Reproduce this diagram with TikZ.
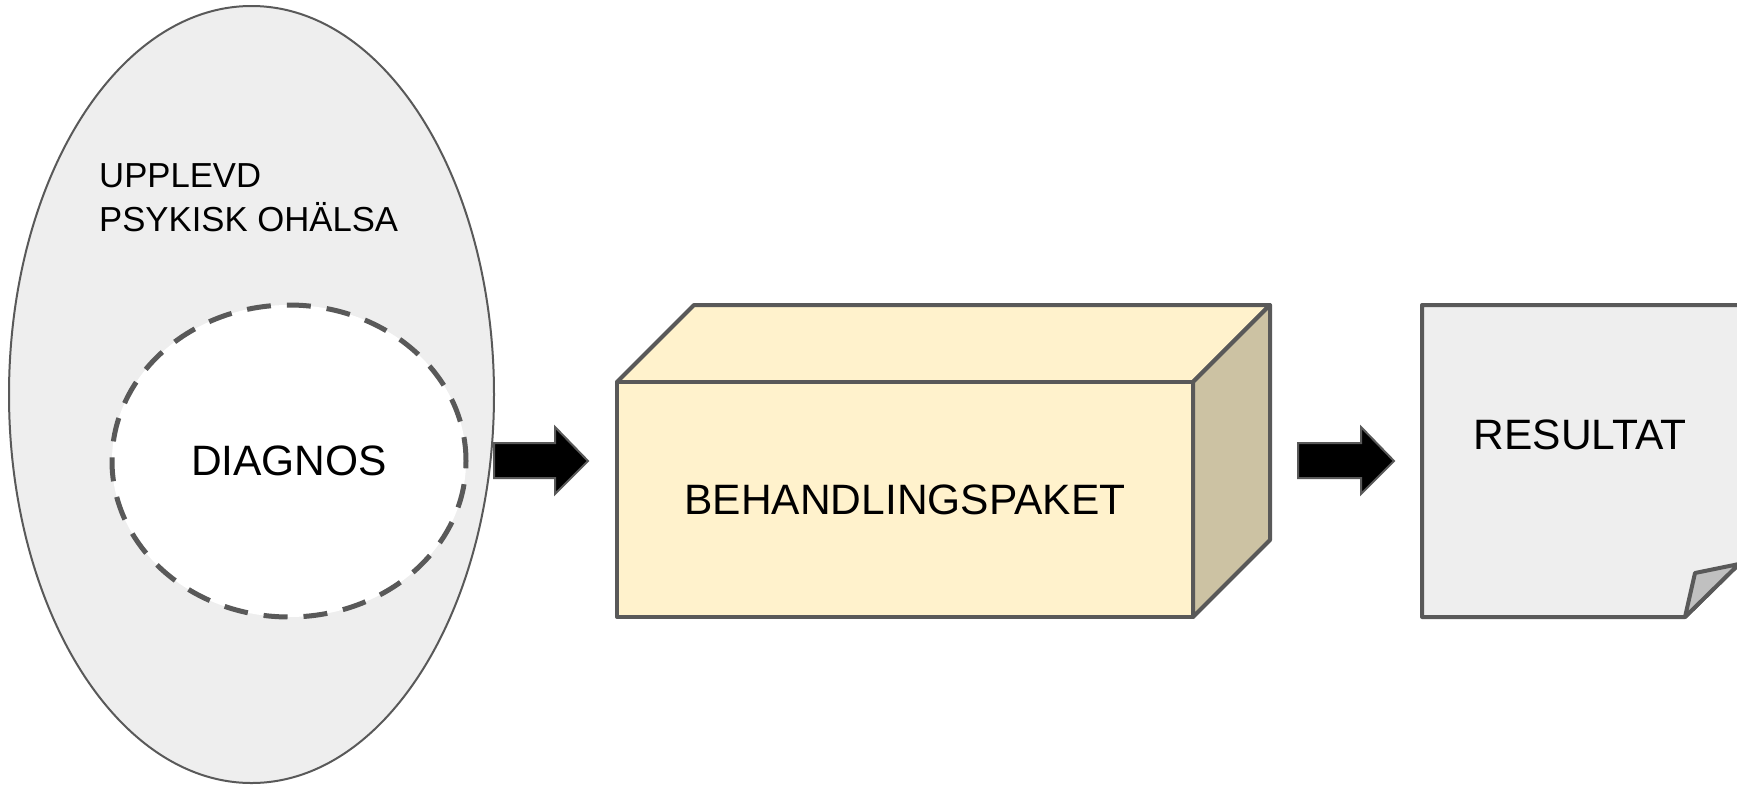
\documentclass[tikz,border=0pt]{standalone}
\usepackage{fontspec}
\setmainfont{Liberation Sans}
\usetikzlibrary{shapes.geometric}
\definecolor{edge}{RGB}{89,89,89}
\definecolor{lightgray}{RGB}{238,238,238}
\definecolor{cream}{RGB}{255,242,204}
\definecolor{creamdark}{RGB}{204,194,163}
\definecolor{foldgray}{RGB}{192,192,192}
\tikzset{
  outerblob/.style={ellipse, draw=edge, line width=2pt, fill=lightgray,
    minimum width=485pt, minimum height=777pt, inner sep=0pt},
  innerblob/.style={ellipse, draw=edge, line width=5pt, fill=white,
    dash pattern=on 24pt off 16pt, minimum width=354pt, minimum height=312pt, inner sep=0pt},
  solidface/.style={draw=edge, line width=4pt, line join=round},
  bigtext/.style={font=\fontsize{42.5}{50}\selectfont, inner sep=0pt},
  labeltext/.style={font=\fontsize{34.7}{44}\selectfont, align=left, inner sep=0pt},
  arrowbody/.style={fill=black, draw=edge, line width=2pt, line join=miter},
  pics/blockarrow/.style={code={
    \draw[arrowbody] (0,-18) -- (#1-33,-18) -- (#1-33,-34) -- (#1,0)
      -- (#1-33,33) -- (#1-33,17) -- (0,17) -- cycle;
  }}
}
\begin{document}
\begin{tikzpicture}[x=1pt, y=-1pt]
\useasboundingbox (0,0) rectangle (1737,785);

% experienced mental ill-health with the diagnosis inside it
\node[outerblob] (ohalsa) at (251.5,394.5) {};
\node[labeltext, anchor=north west] (ohalsalabel) at (99,163) {UPPLEVD\\PSYKISK OHÄLSA};
\node[innerblob] (diagnos) at (289,461) {};
\node[bigtext] (diagnostext) at (diagnos.center) {DIAGNOS};

% treatment package drawn as a cube
\coordinate (fl) at (617,382);
\coordinate (fr) at (1193,382);
\coordinate (br) at (1193,617);
\coordinate (bl) at (617,617);
\coordinate (tl) at (694,305);
\coordinate (tr) at (1270,305);
\coordinate (sr) at (1270,540);
\filldraw[solidface, fill=cream] (fl) -- (tl) -- (tr) -- (fr) -- cycle;
\filldraw[solidface, fill=creamdark] (fr) -- (tr) -- (sr) -- (br) -- cycle;
\filldraw[solidface, fill=cream] (fl) rectangle (br);
\node[bigtext] (paket) at (905,500) {BEHANDLINGSPAKET};

% result sheet with a folded corner
\coordinate (pa) at (1422,305);
\coordinate (pb) at (1739,305);
\coordinate (pc) at (1739,564);
\coordinate (pd) at (1685,617);
\coordinate (pe) at (1422,617);
\coordinate (pf) at (1695,573);
\filldraw[solidface, fill=lightgray] (pa) -- (pb) -- (pc) -- (pd) -- (pe) -- cycle;
\filldraw[solidface, fill=foldgray] (pd) -- (pf) -- (pc) -- cycle;
\node[bigtext] (resultat) at (1580,435) {RESULTAT};

% block arrows between the stages
\coordinate (a1) at (494,461);
\coordinate (a2) at (1298,461);
\pic at (a1) {blockarrow=94};
\pic at (a2) {blockarrow=96};
\end{tikzpicture}
\end{document}
